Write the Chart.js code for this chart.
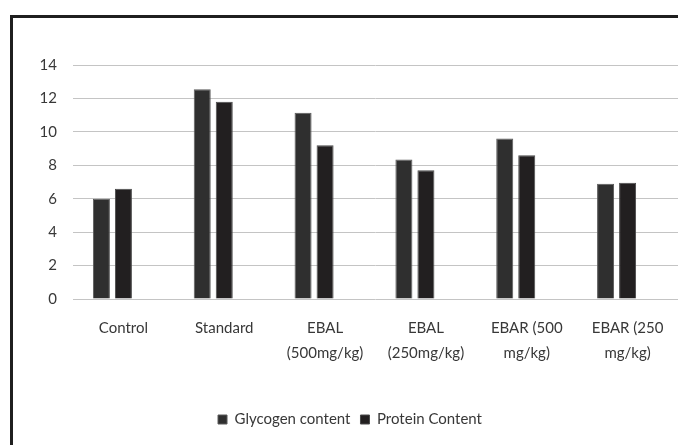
<!DOCTYPE html>
<html>
<head>
<meta charset="utf-8">
<script src="https://cdn.jsdelivr.net/npm/chart.js@4"></script>
<style>
  html, body { margin: 0; padding: 0; background: #fff; overflow: hidden; }
  #frame {
    position: absolute; left: 10px; top: 15px; width: 720px; height: 460px;
    border-left: 3px solid #1f1f1f; border-top: 3px solid #1f1f1f;
  }
  #wrap { position: absolute; left: 0; top: 0; width: 678px; height: 445px; }
</style>
</head>
<body>
<div id="frame"></div>
<div id="wrap"><canvas id="myChart"></canvas></div>
<script>
// ****** data ******
const groups = [
  "Control",
  "Standard",
  ["EBAL", "(500mg/kg)"],
  ["EBAL", "(250mg/kg)"],
  ["EBAR (500", "mg/kg)"],
  ["EBAR (250", "mg/kg)"]
];
const glycogen = [6.0, 12.55, 11.15, 8.35, 9.6, 6.9];
const protein = [6.6, 11.8, 9.2, 7.7, 8.6, 6.95];
const yTicks = [0, 2, 4, 6, 8, 10, 12, 14];

const fontFam = "Lato, 'Open Sans', sans-serif";
const textCol = "#383838";

const data = {
  labels: groups,
  datasets: [
    {
      label: "Glycogen content",
      data: glycogen,
      backgroundColor: "#2f2f2f",
      borderColor: "#5a5a5a",
      borderWidth: 1,
    },
    {
      label: "Protein Content",
      data: protein,
      backgroundColor: "#221f20",
      borderColor: "#4a4a4a",
      borderWidth: 1,
    },
    {
      // empty slot, keeps the pair left of the label like the original
      label: "",
      data: groups.map(() => null),
    },
  ],
};

const config = {
  type: "bar",
  data: data,
  options: {
    responsive: true,
    maintainAspectRatio: false,
    animation: false,
    categoryPercentage: 0.655,
    barPercentage: 0.773,
    layout: { padding: { left: 22, top: 65, right: 0, bottom: 8 } },
    scales: {
      x: {
        grid: { display: false },
        border: { display: false },
        ticks: {
          color: textCol,
          font: { family: fontFam, size: 15, lineHeight: 1.67 },
          padding: 9,
          maxRotation: 0,
          autoSkip: false,
        },
        afterFit: (scale) => { scale.height = 103; },
      },
      y: {
        min: 0,
        max: 14,
        afterBuildTicks: (scale) => { scale.ticks = yTicks.map((v) => ({ value: v })); },
        grid: { color: "#c4c4c4", lineWidth: 1, drawTicks: false },
        border: { display: false },
        ticks: {
          color: textCol,
          font: { family: fontFam, size: 15 },
          padding: 16,
        },
        afterFit: (scale) => { scale.width = 51; },
      },
    },
    plugins: {
      tooltip: { enabled: false },
      legend: {
        position: "bottom",
        labels: {
          boxWidth: 9,
          boxHeight: 9,
          padding: 10,
          color: textCol,
          font: { family: fontFam, size: 15 },
          filter: (item) => item.datasetIndex < 2,
        },
      },
    },
  },
};

const myChart = new Chart(document.getElementById("myChart"), config);
</script>
</body>
</html>
